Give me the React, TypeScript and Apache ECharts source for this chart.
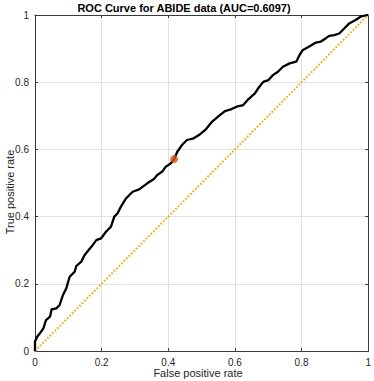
import React, { useEffect, useRef } from "react";
import * as echarts from "echarts";

const fpr = [0, 0, 0.007, 0.015, 0.025, 0.033, 0.045, 0.05, 0.064, 0.074, 0.084, 0.094, 0.104, 0.119, 0.124, 0.139, 0.149, 0.169, 0.184, 0.198, 0.213, 0.228, 0.238, 0.248, 0.258, 0.273, 0.293, 0.3125, 0.337, 0.357, 0.367, 0.382, 0.392, 0.407, 0.4176, 0.427, 0.441, 0.456, 0.476, 0.491, 0.511, 0.531, 0.551, 0.57, 0.59, 0.605, 0.625, 0.64, 0.66, 0.67, 0.685, 0.7, 0.714, 0.729, 0.744, 0.764, 0.784, 0.794, 0.804, 0.823, 0.843, 0.858, 0.873, 0.883, 0.898, 0.913, 0.928, 0.943, 0.962, 0.977, 0.997, 1];
const tpr = [0, 0.028, 0.043, 0.053, 0.067, 0.092, 0.102, 0.124, 0.127, 0.137, 0.167, 0.187, 0.221, 0.236, 0.253, 0.266, 0.286, 0.31, 0.33, 0.335, 0.355, 0.37, 0.4, 0.41, 0.43, 0.454, 0.474, 0.481, 0.499, 0.512, 0.524, 0.534, 0.548, 0.558, 0.571, 0.593, 0.613, 0.628, 0.633, 0.642, 0.658, 0.682, 0.699, 0.714, 0.72, 0.727, 0.732, 0.749, 0.767, 0.782, 0.801, 0.806, 0.821, 0.831, 0.846, 0.856, 0.861, 0.881, 0.896, 0.906, 0.918, 0.921, 0.931, 0.938, 0.94, 0.945, 0.96, 0.975, 0.985, 0.995, 1, 1];
const chancePoints = [[0, 0], [1, 1]];
const operatingPoint = [0.4176, 0.571];
const titleText = "ROC Curve for ABIDE data (AUC=0.6097)";
const xName = "False positive rate";
const yName = "True positive rate";

const FONT = "'Liberation Sans', Arial, Helvetica, sans-serif";
const AX = "#3a3a3a";
const LBL = "#262626";

export default function App() {
  const ref = useRef<HTMLDivElement>(null);
  useEffect(() => {
    if (!ref.current) return;
    const chart = echarts.init(ref.current, undefined, { renderer: "svg" });
    const baseAxis = {
      type: "value" as const,
      min: 0,
      max: 1,
      interval: 0.2,
      axisLine: { show: true, onZero: false, lineStyle: { color: AX, width: 1 } },
      axisTick: { show: true, inside: true, length: 3, lineStyle: { color: AX } },
    };
    chart.setOption({
      animation: false,
      backgroundColor: "#ffffff",
      grid: { left: 35, right: 3, top: 15, bottom: 30, containLabel: false },
      xAxis: [
        {
          ...baseAxis,
          position: "bottom",
          splitLine: { show: true, lineStyle: { color: "#e2e2e2", width: 1 } },
          axisLabel: { color: LBL, fontSize: 10, fontFamily: FONT, margin: 6 },
        },
        {
          ...baseAxis,
          position: "top",
          splitLine: { show: false },
          axisLabel: { show: false },
        },
      ],
      yAxis: [
        {
          ...baseAxis,
          position: "left",
          splitLine: { show: true, lineStyle: { color: "#e2e2e2", width: 1 } },
          axisLabel: { color: LBL, fontSize: 10, fontFamily: FONT, margin: 6 },
        },
        {
          ...baseAxis,
          position: "right",
          splitLine: { show: false },
          axisLabel: { show: false },
        },
      ],
      series: [
        {
          type: "line",
          data: chancePoints,
          showSymbol: false,
          lineStyle: { color: "#EDB120", width: 2, type: [1.8, 1.7] },
          z: 2,
        },
        {
          type: "line",
          data: fpr.map((x, i) => [x, tpr[i]]),
          showSymbol: false,
          lineStyle: { color: "#000000", width: 2.3, join: "round" },
          z: 3,
        },
        {
          type: "scatter",
          data: [operatingPoint],
          symbolSize: 8,
          itemStyle: { color: "#D95319" },
          z: 4,
        },
      ],
      graphic: [
        {
          type: "text",
          x: 184,
          y: 8,
          style: {
            text: titleText,
            fontSize: 11,
            fontWeight: "bold",
            fontFamily: FONT,
            fill: "#000",
            align: "center",
            verticalAlign: "middle",
          },
        },
        {
          type: "text",
          x: 198,
          y: 373,
          style: {
            text: xName,
            fontSize: 11,
            fontFamily: FONT,
            fill: LBL,
            align: "center",
            verticalAlign: "middle",
          },
        },
        {
          type: "text",
          x: 10,
          y: 192,
          rotation: Math.PI / 2,
          style: {
            text: yName,
            fontSize: 11,
            fontFamily: FONT,
            fill: LBL,
            align: "center",
            verticalAlign: "middle",
          },
        },
      ],
    });
    return () => chart.dispose();
  }, []);
  return <div ref={ref} style={{ width: 374, height: 381, position: "fixed", left: 0, top: 0 }} />;
}
